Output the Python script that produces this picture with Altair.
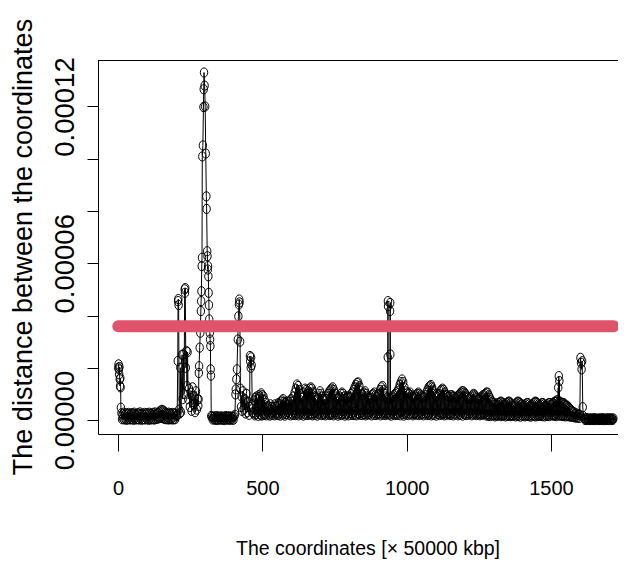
import altair as alt
import pandas as pd

# ---------------- data (values in units of 1e-6) ----------------
UNIT = 1e-6

# opening cluster
open_x = [1, 2, 3, 4, 5, 6, 7, 8, 9, 10]
open_v = [20.0, 21.3, 19.4, 17.5, 20.3, 15.6, 13.0, 16.0, 12.5, 4.7]

# low band: upper points at x = 12, 16, ...; lower points at x = 14, 18, ...
low1_top = [2.6, 2.2, 2.8, 2.0, 2.5, 2.3, 2.7, 1.9, 2.4, 2.6, 2.1, 2.8, 2.3, 2.0,
            2.6, 2.4, 2.9, 2.2, 2.5, 2.0, 2.7, 2.3, 2.6, 2.1, 2.8, 2.4, 2.2, 2.7,
            2.5, 2.9, 2.3, 2.6, 2.8, 3.2, 3.6, 3.9, 3.7, 3.3, 2.9, 2.6, 2.4, 2.8,
            2.5, 2.2, 2.7, 2.4, 2.6, 2.3]
low1_bot = [0.3, 0.5, 0.2, 0.4, 0.1, 0.3, 0.5, 0.2, 0.4, 0.3, 0.1, 0.5, 0.2, 0.4,
            0.3, 0.2, 0.5, 0.1, 0.3, 0.4, 0.2, 0.5, 0.3, 0.1, 0.4, 0.2, 0.5, 0.3,
            0.2, 0.4, 0.6, 0.5, 0.8, 0.9, 1.0, 0.8, 0.6, 0.4, 0.3, 0.5, 0.2, 0.4,
            0.3, 0.5, 0.2, 0.4, 0.3]

# first spikes
spikeA_x = [203, 205, 207, 208, 209, 210, 212, 214, 216, 218, 222, 224, 227, 229,
            231, 232, 233, 235, 237, 239, 241, 243, 246, 249, 252, 255, 258, 261,
            264, 267, 270, 273, 276]
spikeA_v = [1.5, 2.0, 22.6, 45.5, 46.3, 44.0, 4.0, 2.5, 20.0, 3.0, 25.0, 8.0, 25.1,
            10.0, 50.0, 48.7, 50.5, 20.0, 26.4, 13.0, 26.0, 8.0, 12.0, 5.0, 10.5,
            3.5, 12.5, 6.0, 9.0, 3.0, 11.0, 4.0, 8.0]

# main spike
main_x = [278, 279, 280, 281, 283, 285, 287, 288, 289, 290, 291, 292, 294, 296,
          297, 298, 300, 302, 304, 306, 307, 309, 310, 311, 312, 313, 314, 315,
          316, 317, 318, 319, 320, 321, 322, 323]
main_v = [5.4, 7.9, 18.0, 20.6, 27.7, 33.4, 41.7, 45.5, 49.3, 58.9, 62.1, 100.9,
          105.1, 119.8, 126.6, 133.0, 128.0, 120.0, 102.0, 85.6, 80.8, 64.6, 62.7,
          57.6, 58.9, 55.0, 48.7, 44.0, 38.5, 36.0, 33.4, 30.8, 28.3, 19.4, 17.0, 1.5]

# flat stretch after the main spike: upper at x = 326, 330, ...; lower at 328, 332, ...
flat1_top = [1.3, 1.1, 1.4, 1.2, 1.5, 1.1, 1.3, 1.2, 1.4, 1.0, 1.3, 1.2, 1.5, 1.1,
             1.3, 1.4, 1.2, 1.3, 1.1, 1.4]
flat1_bot = [0.2, 0.4, 0.1, 0.3, 0.0, 0.2, 0.4, 0.1, 0.3, 0.2, 0.0, 0.3, 0.1, 0.4,
             0.2, 0.1, 0.3, 0.2, 0.1]

spikeC_x = [405, 407, 408, 410, 412, 415, 417, 419, 420, 421, 423, 424, 426, 428,
            430, 433, 436, 439, 442, 445, 448, 451, 454]
spikeC_v = [2.0, 9.8, 11.7, 15.6, 19.4, 30.8, 39.7, 44.2, 46.1, 45.0, 30.0, 12.0,
            5.0, 9.0, 3.5, 11.0, 4.0, 8.0, 2.5, 10.0, 3.0, 7.0, 2.0]

spikeD_x = [456, 457, 458, 460, 461, 463, 465, 467]
spikeD_v = [5.0, 24.5, 22.5, 20.0, 24.0, 21.0, 6.0, 3.0]

# main noisy band: lower points at x = 470, 474, ..., 1598
mid_bot = [
    2.5, 1.8, 2.2, 3.0, 1.6, 2.4, 2.0, 1.7, 2.6, 1.9, 2.3, 1.8, 2.8, 2.1, 1.7, 2.5, 2.0, 2.9, 1.8, 2.2, 2.6, 1.9, 2.4, 1.7, 2.8,
    2.0, 2.6, 1.7, 2.3, 3.0, 2.1, 2.7, 1.8, 2.4, 2.0, 2.9, 1.9, 2.2, 2.6, 1.8, 2.5, 2.1, 2.8, 1.7, 2.3, 2.0, 2.7, 1.9, 2.4, 2.2,
    2.2, 1.8, 2.6, 2.0, 2.9, 1.7, 2.4, 2.1, 2.8, 1.9, 2.5, 2.2, 1.8, 2.7, 2.0, 2.4, 1.9, 2.6, 2.3, 1.8, 2.8, 2.1, 2.5, 1.7, 2.2,
    2.6, 1.9, 2.3, 2.8, 1.7, 2.2, 2.5, 1.8, 2.7, 2.0, 2.4, 1.9, 2.9, 2.1, 1.8, 2.6, 2.3, 2.0, 2.7, 1.9, 2.4, 2.2, 1.8, 2.5, 2.1,
    2.3, 2.9, 1.8, 2.5, 2.0, 2.7, 1.9, 2.4, 2.2, 2.6, 1.8, 2.5, 2.1, 2.8, 1.9, 2.3, 2.6, 2.0, 2.4, 1.7, 2.7, 2.2, 1.9, 2.5, 2.1,
    2.0, 2.6, 1.8, 2.9, 2.3, 1.7, 2.5, 2.1, 2.8, 1.9, 2.4, 2.2, 2.7, 1.8, 2.3, 2.6, 2.0, 2.5, 1.9, 2.8, 2.2, 2.4, 1.8, 2.6, 2.1,
    2.6, 1.9, 2.4, 2.8, 1.8, 2.3, 2.0, 2.7, 1.7, 2.5, 2.2, 1.9, 2.6, 2.1, 2.4, 1.8, 2.7, 2.0, 2.3, 2.5, 1.9, 2.2, 2.6, 1.8, 2.4,
    2.1, 2.7, 1.8, 2.4, 2.0, 2.9, 1.7, 2.5, 2.2, 1.9, 2.6, 2.0, 2.3, 2.7, 1.8, 2.4, 2.1, 2.5, 1.9, 2.2, 2.6, 1.8, 2.3, 2.0, 2.4,
    2.4, 1.8, 2.2, 1.6, 2.0, 1.5, 2.1, 1.7, 1.9, 1.4, 2.0, 1.6, 1.8, 2.1, 1.5, 1.9, 1.7, 2.0, 1.4, 1.8, 1.6, 2.0, 1.5, 1.9, 1.7,
    1.6, 1.9, 1.4, 2.0, 1.5, 1.8, 1.3, 1.9, 1.6, 2.0, 1.4, 1.7, 1.9, 1.5, 1.8, 1.3, 1.7, 2.0, 1.6, 1.4, 1.9, 1.5, 1.8, 1.6, 2.0,
    1.5, 1.8, 1.4, 1.9, 1.6, 2.0, 1.5, 2.2, 1.8, 2.0, 1.6, 1.9, 1.5, 2.1, 1.7, 2.0, 1.6, 1.9, 1.5, 1.8, 1.4, 1.7, 1.5, 1.6, 1.3,
    1.4, 1.2, 1.3, 1.0, 1.1, 0.9, 1.0, 0.8,
]
# main noisy band: upper points at x = 472, 476, ..., 1596
mid_top = [
    7.5, 8.5, 9.0, 8.0, 9.5, 9.0, 10.2, 9.5, 9.0, 7.5, 6.5, 5.0, 5.5, 4.5, 6.0, 5.0, 4.5, 5.0, 6.0, 5.0, 5.5, 6.5, 6.0, 7.0, 7.5,
    8.0, 7.0, 6.5, 7.0, 6.0, 7.0, 7.5, 8.0, 7.0, 9.0, 10.5, 12.0, 13.6, 13.0, 11.5, 10.0, 8.5, 9.0, 10.5, 12.0, 11.5, 10.0, 11.0, 12.0, 12.5,
    12.0, 10.5, 9.0, 8.5, 7.5, 8.5, 10.0, 11.0, 10.0, 9.0, 8.0, 7.5, 8.0, 9.0, 10.0, 11.0, 11.5, 12.0, 12.5, 11.5, 10.0, 9.0, 8.0, 8.5, 9.0,
    10.0, 10.5, 10.0, 9.0, 8.0, 8.5, 9.0, 8.5, 9.0, 10.0, 10.5, 11.5, 12.5, 13.5, 14.2, 14.4, 13.0, 11.0, 10.0, 9.5, 10.5, 11.0, 10.0, 9.0, 8.5,
    8.0, 8.5, 9.5, 10.0, 10.5, 9.5, 9.0, 9.5, 10.0, 11.5, 12.5, 13.0, 11.5, 10.0, 9.0, 8.5, 8.0, 8.5, 8.0, 8.5, 9.0, 9.5, 10.0, 10.5, 11.0,
    12.0, 13.5, 14.5, 15.5, 14.5, 12.5, 11.0, 10.0, 10.5, 10.0, 10.5, 9.5, 9.0, 8.5, 9.0, 9.5, 10.0, 10.5, 10.0, 9.5, 9.0, 8.5, 9.0, 9.5, 10.5,
    11.5, 12.5, 13.0, 13.4, 12.5, 11.0, 10.0, 9.5, 9.0, 9.5, 10.0, 11.0, 11.5, 12.0, 11.5, 10.5, 9.5, 9.5, 9.0, 9.0, 9.5, 9.5, 9.0, 9.0, 8.5,
    8.5, 9.0, 9.5, 10.0, 10.5, 11.0, 11.0, 10.5, 10.0, 9.0, 8.5, 8.0, 8.5, 9.0, 9.5, 10.0, 9.5, 9.0, 8.5, 8.0, 8.0, 8.5, 9.0, 9.5, 9.5,
    10.0, 10.5, 10.5, 9.5, 8.5, 7.5, 7.0, 6.5, 6.5, 6.0, 6.0, 6.5, 6.5, 7.0, 7.0, 6.5, 6.0, 6.0, 6.5, 6.5, 7.0, 7.0, 6.5, 6.0, 5.5,
    5.5, 6.0, 6.5, 7.0, 7.0, 6.5, 6.0, 6.0, 5.5, 5.5, 6.0, 6.5, 6.5, 6.0, 5.5, 5.5, 6.0, 6.5, 7.0, 7.0, 6.5, 6.0, 5.5, 6.0, 6.5,
    6.5, 6.0, 5.5, 5.5, 6.0, 6.5, 6.5, 6.0, 6.0, 6.5, 7.0, 7.0, 7.5, 7.5, 7.0, 7.0, 6.5, 6.5, 6.5, 6.0, 5.5, 5.5, 5.0, 4.5, 4.0,
    3.5, 3.0, 3.0, 2.5, 2.5, 2.0, 2.0,
]

spikeM_x = [934.5, 935.0, 935.5, 942.5, 943.0, 943.5]
spikeM_v = [24.0, 45.5, 43.6, 41.7, 44.8, 25.1]

spikeE_x = [1525, 1527, 1529]
spikeE_v = [12.4, 16.8, 14.9]

spikeF_x = [1600, 1602, 1604, 1606, 1608, 1610, 1612]
spikeF_v = [2.0, 23.8, 21.9, 19.4, 22.5, 4.9, 1.5]

# flat tail: upper at x = 1616, 1620, ...; lower at 1618, 1622, ...
tail_top = [0.6, 0.5, 0.7, 0.4, 0.6, 0.5, 0.6, 0.4, 0.7, 0.5, 0.6, 0.4, 0.5, 0.6,
            0.4, 0.7, 0.5, 0.6, 0.4, 0.6, 0.5, 0.7, 0.4, 0.6, 0.5, 0.6]
tail_bot = [0.1, 0.0, 0.2, 0.1, 0.0, 0.1, 0.2, 0.0, 0.1, 0.0, 0.2, 0.1, 0.0, 0.1,
            0.2, 0.0, 0.1, 0.0, 0.2, 0.1, 0.0, 0.1, 0.2, 0.0, 0.1]

# threshold line
thr_x = [1, 1717]
thr_v = [35.9, 35.9]

# tick values
x_ticks = [0, 500, 1000, 1500]
y_ticks = [0, 2e-5, 4e-5, 6e-5, 8e-5, 1e-4, 1.2e-4]


def grid(start, step, vals):
    return [start + step * i for i in range(len(vals))]


parts = [
    (open_x, open_v),
    (grid(12, 4, low1_top), low1_top),
    (grid(14, 4, low1_bot), low1_bot),
    (spikeA_x, spikeA_v),
    (main_x, main_v),
    (grid(326, 4, flat1_top), flat1_top),
    (grid(328, 4, flat1_bot), flat1_bot),
    (spikeC_x, spikeC_v),
    (spikeD_x, spikeD_v),
    (grid(470, 4, mid_bot), mid_bot),
    (grid(472, 4, mid_top), mid_top),
    (spikeM_x, spikeM_v),
    (spikeE_x, spikeE_v),
    (spikeF_x, spikeF_v),
    (grid(1616, 4, tail_top), tail_top),
    (grid(1618, 4, tail_bot), tail_bot),
]
xs, vs = [], []
for gx, gv in parts:
    xs += list(gx)
    vs += list(gv)

df = pd.DataFrame({"x": xs, "v": [v * UNIT for v in vs]}).sort_values("x", kind="stable").reset_index(drop=True)
thr = pd.DataFrame({"x": thr_x, "v": [v * UNIT for v in thr_v]})

# ---------------- chart ----------------
W, H = 520, 374
X_DOMAIN = [-69.3, 1732.1]
Y_DOMAIN = [-5.354e-6, 1.37798e-4]
xscale = alt.Scale(domain=X_DOMAIN, nice=False, zero=False)
yscale = alt.Scale(domain=Y_DOMAIN, nice=False, zero=False)

SANS = "Liberation Sans, Arial, sans-serif"

x_axis = alt.Axis(
    values=x_ticks, grid=False, domainColor="black", tickColor="black",
    tickSize=17, labelFont=SANS, labelFontSize=20, labelColor="black",
    labelBaseline="alphabetic", labelPadding=43, labelFlush=False,
    labelOverlap=False, labelAngle=0, format="d",
    title="The coordinates [× 50000 kbp]", titleFont=SANS, titleFontSize=19.5,
    titleFontWeight="normal", titleColor="black", titleX=269.5, titleY=120,
    titleAlign="center", titleBaseline="alphabetic",
)
y_axis = alt.Axis(
    values=y_ticks, grid=False, domainColor="black", tickColor="black",
    tickSize=11, labelFont=SANS, labelFontSize=27.5, labelColor="black",
    labelAngle=270, labelAlign="center", labelBaseline="alphabetic",
    labelPadding=14, labelOverlap=False, labelFlush=False,
    labelExpr="datum.value == 0 ? '0.00000' : (abs(datum.value - 0.00006) < 1e-9 ? '0.00006' : (abs(datum.value - 0.00012) < 1e-9 ? '0.00012' : ''))",
    title="The distance between the coordinates", titleFont=SANS,
    titleFontSize=27, titleFontWeight="normal", titleColor="black",
    titleAngle=270, titleX=-67, titleY=186.5, titleAlign="center",
    titleBaseline="alphabetic",
)

ELLIPSE = ("M 1 0 C 1 0.69 0.552 1.25 0 1.25 C -0.552 1.25 -1 0.69 -1 0 "
           "C -1 -0.69 -0.552 -1.25 0 -1.25 C 0.552 -1.25 1 -0.69 1 0 Z")

X = alt.X("x:Q", scale=xscale, axis=x_axis)
Y = alt.Y("v:Q", scale=yscale, axis=y_axis)

line = alt.Chart(df).mark_line(color="black", strokeWidth=1).encode(x=X, y=Y)
points = alt.Chart(df).mark_point(
    shape=ELLIPSE, filled=False, size=55, color="black", strokeWidth=1, opacity=1
).encode(x=X, y=Y)
threshold = alt.Chart(thr).mark_line(
    color="#DF536B", strokeWidth=12, strokeCap="round"
).encode(x=X, y=Y)
# top edge of the plot frame
frame_top = alt.Chart(thr).mark_rule(color="black", strokeWidth=1).encode(
    x=alt.value(0), x2=alt.value(W), y=alt.value(0.5)
)

chart = alt.layer(line, points, threshold, frame_top).properties(
    width=W, height=H,
    autosize=alt.AutoSizeParams(type="none"),
    padding={"left": 90, "top": 52, "right": 0, "bottom": 126},
    background="white",
).configure_view(strokeWidth=0)

chart.save("out.html", embed_options={"renderer": "svg", "actions": False})
